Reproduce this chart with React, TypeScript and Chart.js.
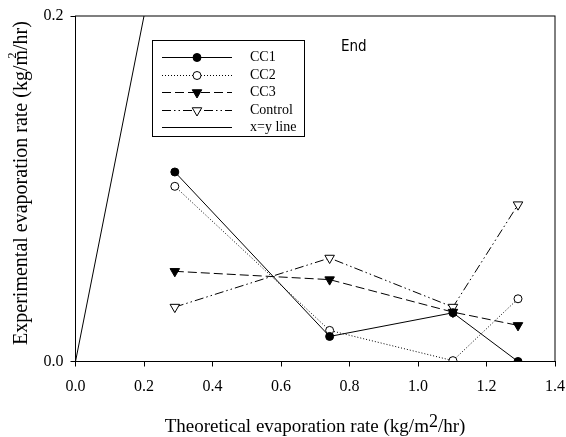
import React, { useEffect, useRef } from "react";
import { Chart, registerables } from "chart.js";

Chart.register(...registerables);

const xValues = [0.29, 0.742, 1.102, 1.292];
const cc1 = [0.1097, 0.0145, 0.0282, 0.0];
const cc2 = [0.1014, 0.018, 0.0005, 0.0363];
const cc3 = [0.0522, 0.0474, 0.0286, 0.0209];
const control = [0.0315, 0.0599, 0.0315, 0.0908];
const xyLineX = [0, 0.2];
const xyLineY = [0, 0.2];
const xTicks = [0, 0.2, 0.4, 0.6, 0.8, 1.0, 1.2, 1.4];
const yTicks = [0, 0.2];
const seriesNames = ["CC1", "CC2", "CC3", "Control", "x=y line"];

const SERIF = "'Liberation Serif', 'Times New Roman', serif";

type Marker = "circleFilled" | "circleOpen" | "triFilled" | "triOpen" | "none";
const styles: { dash: number[]; marker: Marker }[] = [
  { dash: [], marker: "circleFilled" },
  { dash: [1, 2], marker: "circleOpen" },
  { dash: [9, 4], marker: "triFilled" },
  { dash: [9, 3, 1.5, 3, 1.5, 3], marker: "triOpen" },
  { dash: [], marker: "none" },
];

function drawMarker(ctx: CanvasRenderingContext2D, m: Marker, x: number, y: number) {
  ctx.save();
  ctx.setLineDash([]);
  ctx.lineWidth = 1;
  ctx.strokeStyle = "#000";
  if (m === "circleFilled" || m === "circleOpen") {
    ctx.beginPath();
    ctx.arc(x, y, 4, 0, Math.PI * 2);
    ctx.fillStyle = m === "circleFilled" ? "#000" : "#fff";
    ctx.fill();
    ctx.stroke();
  } else if (m === "triFilled" || m === "triOpen") {
    const r = 5.5;
    ctx.beginPath();
    for (let i = 0; i < 3; i++) {
      const a = Math.PI / 2 + (i * 2 * Math.PI) / 3;
      const px = x + r * Math.cos(a);
      const py = y + r * Math.sin(a);
      if (i === 0) ctx.moveTo(px, py);
      else ctx.lineTo(px, py);
    }
    ctx.closePath();
    ctx.fillStyle = m === "triFilled" ? "#000" : "#fff";
    ctx.fill();
    ctx.stroke();
  }
  ctx.restore();
}

const decorPlugin = {
  id: "decor",
  afterDraw(chart: any) {
    const { ctx, chartArea } = chart;
    const { left, right, top, bottom } = chartArea;
    ctx.save();
    // frame
    ctx.strokeStyle = "#000";
    ctx.lineWidth = 1;
    ctx.setLineDash([]);
    ctx.strokeRect(left, top, right - left, bottom - top);

    // "End" label
    ctx.fillStyle = "#000";
    ctx.font = "15px 'DejaVu Sans Condensed', 'DejaVu Sans', sans-serif";
    ctx.textAlign = "left";
    ctx.textBaseline = "middle";
    ctx.fillText("End", 341, 47);

    // legend box
    const bx = 152, by = 40, bw = 152, bh = 96;
    ctx.fillStyle = "#fff";
    ctx.fillRect(bx, by, bw, bh);
    ctx.strokeStyle = "#000";
    ctx.strokeRect(bx + 0.5, by + 0.5, bw, bh);
    const rowsY = [57, 75, 92, 110, 127];
    seriesNames.forEach((name, i) => {
      const yy = rowsY[i] + 0.5;
      ctx.save();
      ctx.strokeStyle = "#000";
      ctx.lineWidth = 1;
      ctx.setLineDash(styles[i].dash);
      ctx.beginPath();
      ctx.moveTo(162, yy);
      ctx.lineTo(232, yy);
      ctx.stroke();
      ctx.restore();
      drawMarker(ctx, styles[i].marker, 197, yy);
      ctx.fillStyle = "#000";
      ctx.font = `14px ${SERIF}`;
      ctx.textAlign = "left";
      ctx.textBaseline = "middle";
      ctx.fillText(name, 250, yy);
    });

    // x title
    const xt1 = "Theoretical evaporation rate (kg/m";
    const xt2 = "2";
    const xt3 = "/hr)";
    ctx.font = `19px ${SERIF}`;
    const w1 = ctx.measureText(xt1).width;
    const w3 = ctx.measureText(xt3).width;
    ctx.font = `18px ${SERIF}`;
    const w2 = ctx.measureText(xt2).width;
    const total = w1 + w2 + w3;
    let sx = 315 - total / 2;
    const ty = 431.5;
    ctx.textAlign = "left";
    ctx.textBaseline = "alphabetic";
    ctx.font = `19px ${SERIF}`;
    ctx.fillText(xt1, sx, ty);
    sx += w1;
    ctx.font = `18px ${SERIF}`;
    ctx.fillText(xt2, sx, ty - 4.5);
    sx += w2;
    ctx.font = `19px ${SERIF}`;
    ctx.fillText(xt3, sx, ty);

    // y title
    ctx.save();
    ctx.translate(22, 183);
    ctx.rotate(-Math.PI / 2);
    const yt1 = "Experimental evaporation rate (kg/m";
    const yt2 = "2";
    const yt3 = "/hr)";
    ctx.font = `20px ${SERIF}`;
    const a1 = ctx.measureText(yt1).width;
    const a3 = ctx.measureText(yt3).width;
    const mW = ctx.measureText("m").width;
    const ytot = a1 + a3;
    let ox = -ytot / 2;
    ctx.textAlign = "left";
    ctx.textBaseline = "middle";
    ctx.fillText(yt1, ox, 0);
    ctx.font = `12px ${SERIF}`;
    ctx.fillText(yt2, ox + a1 - mW * 0.55, -9);
    ctx.font = `20px ${SERIF}`;
    ctx.fillText(yt3, ox + a1, 0);
    ctx.restore();

    ctx.restore();
  },
};

export default function App() {
  const ref = useRef<HTMLCanvasElement | null>(null);
  useEffect(() => {
    if (!ref.current) return;
    const mk = (vals: number[]) => xValues.map((x, i) => ({ x, y: vals[i] }));
    const ptStyle = (m: Marker) => {
      if (m === "circleFilled") return { pointStyle: "circle", pointRadius: 4, pointBackgroundColor: "#000", pointRotation: 0 };
      if (m === "circleOpen") return { pointStyle: "circle", pointRadius: 4, pointBackgroundColor: "#fff", pointRotation: 0 };
      if (m === "triFilled") return { pointStyle: "triangle", pointRadius: 5.5, pointBackgroundColor: "#000", pointRotation: 180 };
      if (m === "triOpen") return { pointStyle: "triangle", pointRadius: 5.5, pointBackgroundColor: "#fff", pointRotation: 180 };
      return { pointRadius: 0 };
    };
    const seriesData = [cc1, cc2, cc3, control];
    const datasets: any[] = seriesData.map((vals, i) => ({
      label: seriesNames[i],
      data: mk(vals),
      borderColor: "#000",
      borderWidth: 1,
      borderDash: styles[i].dash,
      pointBorderColor: "#000",
      pointBorderWidth: 1,
      fill: false,
      tension: 0,
      ...ptStyle(styles[i].marker),
    }));
    datasets.push({
      label: seriesNames[4],
      data: xyLineX.map((x, i) => ({ x, y: xyLineY[i] })),
      borderColor: "#000",
      borderWidth: 1,
      pointRadius: 0,
      fill: false,
    });
    const ordered = [datasets[4], ...datasets.slice(0, 4)].map((d) => ({ ...d, order: 0 }));

    const chart = new Chart(ref.current, {
      type: "line",
      data: { datasets: ordered },
      options: {
        animation: false,
        responsive: false,
        maintainAspectRatio: false,
        layout: { padding: { top: 16, right: 11, left: 0, bottom: 0 } },
        plugins: { legend: { display: false }, tooltip: { enabled: false } },
        scales: {
          x: {
            type: "linear",
            min: 0,
            max: 1.4,
            afterBuildTicks: (s: any) => { s.ticks = xTicks.map((v) => ({ value: v })); },
            ticks: {
              color: "#000",
              font: { family: SERIF, size: 16 },
              padding: 11,
              maxRotation: 0,
              callback: (v: any) => Number(v).toFixed(1),
            },
            grid: { drawOnChartArea: false, drawTicks: true, tickLength: 5, color: "#000" },
            border: { display: true, color: "#000" },
            afterFit: (s: any) => {
              s.height = 75.5;
              s.paddingLeft = 0;
              s.paddingRight = 0;
            },
          },
          y: {
            type: "linear",
            min: 0,
            max: 0.2,
            afterBuildTicks: (s: any) => { s.ticks = yTicks.map((v) => ({ value: v })); },
            ticks: {
              color: "#000",
              font: { family: SERIF, size: 16 },
              padding: 7,
              callback: (v: any) => Number(v).toFixed(1),
            },
            grid: { drawOnChartArea: false, drawTicks: true, tickLength: 5, color: "#000" },
            border: { display: true, color: "#000" },
            afterFit: (s: any) => {
              s.width = 75.5;
              s.paddingTop = 0;
              s.paddingBottom = 0;
            },
          },
        },
      } as any,
      plugins: [decorPlugin],
    });
    return () => chart.destroy();
  }, []);
  return (
    <div style={{ position: "absolute", left: 0, top: 0, width: 566, height: 437, background: "#fff" }}>
      <canvas ref={ref} width={566} height={437} style={{ display: "block" }} />
    </div>
  );
}
